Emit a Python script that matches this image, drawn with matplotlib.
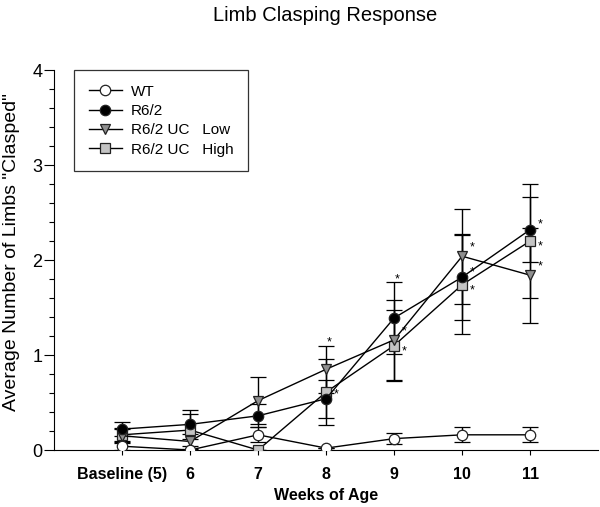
import numpy as np
import matplotlib
matplotlib.use('Agg')
import matplotlib.pyplot as plt
from matplotlib.ticker import MultipleLocator
from matplotlib.lines import Line2D

plt.rcParams['font.family'] = ['Liberation Sans', 'DejaVu Sans']

# weeks of age (baseline is week 5)
weeks = [5, 6, 7, 8, 9, 10, 11]
week_labels = ['Baseline (5)', '6', '7', '8', '9', '10', '11']

# mean number of limbs clasped and error (SEM) per group
wt_mean = [0.04, 0.00, 0.16, 0.02, 0.12, 0.16, 0.16]
wt_err = [0.04, 0.00, 0.08, 0.00, 0.06, 0.08, 0.08]

r62_mean = [0.22, 0.27, 0.36, 0.54, 1.39, 1.82, 2.32]
r62_err = [0.07, 0.15, 0.12, 0.20, 0.38, 0.45, 0.34]

low_mean = [0.15, 0.09, 0.52, 0.85, 1.16, 2.04, 1.84]
low_err = [0.08, 0.08, 0.25, 0.25, 0.42, 0.50, 0.50]

high_mean = [0.16, 0.21, 0.00, 0.61, 1.10, 1.74, 2.20]
high_err = [0.06, 0.17, 0.00, 0.35, 0.37, 0.52, 0.60]

# significance stars (True = marked with *)
r62_sig = [False, False, False, True, True, True, True]
low_sig = [False, False, False, True, True, True, True]
high_sig = [False, False, False, False, True, True, True]

fig = plt.figure(figsize=(6.0, 5.07), dpi=100)
ax = fig.add_axes([0.09, 0.1124, 0.907, 0.7495])

# draw the groups
series = [
    ('R6/2 UC   High', high_mean, high_err, 's', '#c4c4c4', 6.8),
    ('R6/2 UC   Low', low_mean, low_err, 'v', '#8f8f8f', 7.8),
    ('R6/2', r62_mean, r62_err, 'o', 'black', 7.5),
    ('WT', wt_mean, wt_err, 'o', 'white', 7.5),
]
handles = {}
for label, m, e, mk, fc, ms in series:
    ax.errorbar(weeks, m, yerr=e, fmt='-', marker=mk, color='black',
                mfc=fc, mec='#222222', mew=0.9, ms=ms, lw=1.0,
                elinewidth=1.0, capsize=5.5, capthick=1.0, zorder=3)
    handles[label] = Line2D([], [], color='black', lw=1.0, marker=mk,
                            mfc=fc, mec='#222222', mew=0.9, ms=ms)

# stars next to the points
def stars(m, e, sig, dy, above=()):
    for i, s in enumerate(sig):
        if not s:
            continue
        if i in above:
            ax.text(weeks[i] + 0.05, m[i] + e[i] + 0.03, '*', fontsize=9,
                    ha='center', va='center', zorder=5)
        else:
            ax.text(weeks[i] + 0.15, m[i] + dy, '*', fontsize=9,
                    ha='center', va='center', zorder=5)

stars(r62_mean, r62_err, r62_sig, 0.05, above=(4,))
stars(low_mean, low_err, low_sig, 0.09, above=(3,))
stars(high_mean, high_err, high_sig, -0.06)

ax.set_xlim(4, 12)
ax.set_ylim(0, 4)
ax.set_xticks(weeks)
ax.set_xticklabels(week_labels, fontweight='bold', fontsize=11.5)
ax.yaxis.set_major_locator(MultipleLocator(1))
ax.yaxis.set_minor_locator(MultipleLocator(0.2))
ax.tick_params(axis='y', which='major', direction='out', length=7, width=0.8,
               labelsize=13, pad=1.5)
ax.tick_params(axis='y', which='minor', direction='out', length=3.5, width=0.8)
ax.tick_params(axis='x', which='major', direction='out', length=3.5, width=0.8,
               pad=9)
for side in ['top', 'right']:
    ax.spines[side].set_visible(False)
for side in ['left', 'bottom']:
    ax.spines[side].set_linewidth(0.8)

ax.set_xlabel('Weeks of Age', fontweight='bold', fontsize=11.5, labelpad=4)
ax.set_ylabel('Average Number of Limbs "Clasped"', fontsize=14)
ax.yaxis.set_label_coords(-0.062, 0.52)
fig.text(0.542, 0.97, 'Limb Clasping Response', fontsize=14.5,
         ha='center', va='center')

order = ['WT', 'R6/2', 'R6/2 UC   Low', 'R6/2 UC   High']
leg = ax.legend([handles[k] for k in order], order, loc='upper left',
                bbox_to_anchor=(0.037, 1.0), borderaxespad=0, fontsize=11,
                fancybox=False, edgecolor='#333333', handlelength=2.2,
                handletextpad=0.55, labelspacing=0.35, borderpad=0.95,
                framealpha=1)
leg.get_frame().set_linewidth(0.9)

fig.savefig('out.png', dpi=100)
